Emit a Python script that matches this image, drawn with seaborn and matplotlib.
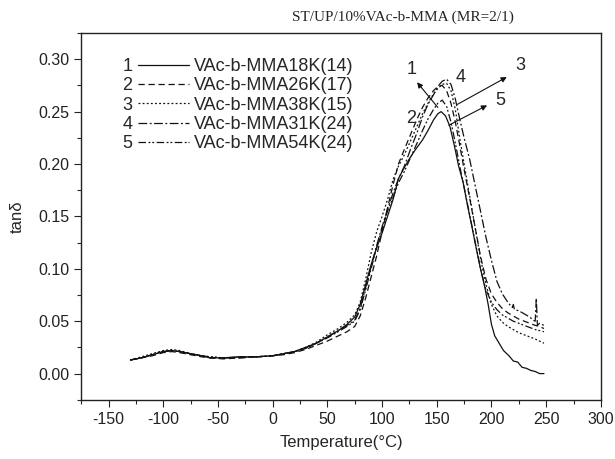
import matplotlib
matplotlib.use("Agg")
import matplotlib.pyplot as plt
from matplotlib.lines import Line2D
from matplotlib.ticker import MultipleLocator, FormatStrFormatter
import seaborn as sns
import pandas as pd

# -------------------------------------------------------
# tan(delta) vs temperature
# -------------------------------------------------------
temps_a = [-130, -120, -110, -100, -92, -85, -75, -65, -57, -45, -30, -15, 0, 10, 20, 30, 40,
           50, 60, 68, 75, 80, 85, 90, 95, 100, 105, 110, 115, 120, 126, 132, 137, 142, 147,
           151, 155, 159, 163, 167, 171, 175, 180, 185, 190, 195, 200, 205, 210, 215, 220,
           225, 230, 235, 240, 244, 248]

temps_1 = [-130, -120, -110, -100, -92, -85, -75, -65, -57, -45, -30, -15, 0, 10, 20, 30, 40,
           50, 60, 68, 75, 80, 85, 90, 95, 100, 105, 110, 115, 120, 125, 130, 137, 142, 147,
           151, 154, 158, 162, 166, 170, 174, 178, 182, 186, 190, 194, 197, 200, 203, 207,
           211, 216, 220, 224, 228, 232, 236, 240, 244, 248]
tand_1 = [0.013, 0.015, 0.018, 0.021, 0.022, 0.021, 0.019, 0.017, 0.015, 0.015, 0.016, 0.016,
          0.017, 0.019, 0.021, 0.025, 0.029, 0.035, 0.041, 0.047, 0.054, 0.066, 0.085, 0.104,
          0.120, 0.134, 0.150, 0.166, 0.186, 0.196, 0.205, 0.213, 0.223, 0.232, 0.242, 0.248,
          0.250, 0.246, 0.236, 0.218, 0.198, 0.183, 0.161, 0.141, 0.120, 0.100, 0.082, 0.066,
          0.047, 0.036, 0.029, 0.022, 0.017, 0.012, 0.011, 0.006, 0.005, 0.003, 0.002, 0.000,
          0.000]

tand_2 = [0.013, 0.015, 0.017, 0.020, 0.021, 0.020, 0.018, 0.016, 0.015, 0.014, 0.015, 0.016,
          0.017, 0.018, 0.020, 0.023, 0.027, 0.031, 0.036, 0.040, 0.045, 0.055, 0.072, 0.092,
          0.112, 0.135, 0.158, 0.180, 0.200, 0.213, 0.228, 0.243, 0.254, 0.263, 0.270, 0.274,
          0.275, 0.270, 0.258, 0.240, 0.218, 0.195, 0.168, 0.140, 0.112, 0.090, 0.076, 0.068,
          0.062, 0.058, 0.055, 0.052, 0.050, 0.048, 0.046, 0.045, 0.043]

tand_3 = [0.013, 0.016, 0.019, 0.022, 0.023, 0.022, 0.019, 0.017, 0.016, 0.015, 0.016, 0.016,
          0.017, 0.019, 0.021, 0.025, 0.030, 0.037, 0.043, 0.049, 0.056, 0.068, 0.090, 0.115,
          0.135, 0.150, 0.166, 0.185, 0.198, 0.208, 0.222, 0.236, 0.248, 0.258, 0.267, 0.272,
          0.276, 0.277, 0.270, 0.252, 0.225, 0.200, 0.170, 0.140, 0.110, 0.085, 0.066, 0.055,
          0.049, 0.045, 0.042, 0.039, 0.037, 0.035, 0.033, 0.031, 0.029]

temps_4 = [-130, -120, -110, -100, -92, -85, -75, -65, -57, -45, -30, -15, 0, 10, 20, 30, 40,
           50, 60, 68, 75, 80, 85, 90, 95, 100, 105, 110, 115, 120, 126, 132, 137, 142, 147,
           151, 155, 159, 163, 167, 171, 175, 180, 185, 190, 195, 200, 205, 210, 215, 219,
           220, 221, 225, 230, 235, 238, 240, 241, 242, 244, 248]
tand_4 = [0.013, 0.015, 0.018, 0.021, 0.022, 0.021, 0.019, 0.017, 0.015, 0.015, 0.015, 0.016,
          0.017, 0.019, 0.021, 0.024, 0.029, 0.035, 0.041, 0.046, 0.051, 0.062, 0.082, 0.102,
          0.122, 0.140, 0.157, 0.172, 0.186, 0.197, 0.214, 0.230, 0.245, 0.257, 0.266, 0.274,
          0.279, 0.281, 0.276, 0.262, 0.243, 0.225, 0.205, 0.180, 0.155, 0.130, 0.108, 0.088,
          0.076, 0.068, 0.063, 0.066, 0.061, 0.060, 0.057, 0.054, 0.051, 0.050, 0.072, 0.046,
          0.048, 0.046]

tand_5 = [0.013, 0.015, 0.018, 0.021, 0.022, 0.021, 0.019, 0.017, 0.016, 0.015, 0.016, 0.016,
          0.017, 0.019, 0.021, 0.024, 0.029, 0.034, 0.040, 0.045, 0.050, 0.061, 0.080, 0.100,
          0.120, 0.138, 0.155, 0.168, 0.182, 0.192, 0.206, 0.220, 0.232, 0.243, 0.252, 0.258,
          0.261, 0.255, 0.240, 0.220, 0.198, 0.178, 0.152, 0.126, 0.100, 0.080, 0.068, 0.061,
          0.056, 0.053, 0.050, 0.048, 0.046, 0.044, 0.042, 0.041, 0.040]

labels = ["VAc-b-MMA18K(14)", "VAc-b-MMA26K(17)", "VAc-b-MMA38K(15)",
          "VAc-b-MMA31K(24)", "VAc-b-MMA54K(24)"]
numbers = ["1", "2", "3", "4", "5"]

series = [(temps_1, tand_1), (temps_a, tand_2), (temps_a, tand_3),
          (temps_4, tand_4), (temps_a, tand_5)]
line_styles = ["-", (0, (5, 3)), (0, (1.5, 1.8)), (0, (7, 2, 1.5, 2)),
               (0, (6, 2, 1.5, 1.5, 1.5, 2))]

# -------------------------------------------------------
# Style
# -------------------------------------------------------
sns.set_style("ticks")
plt.rcParams["font.family"] = ["Liberation Sans", "DejaVu Sans"]
plt.rcParams["axes.unicode_minus"] = False

fig, ax = plt.subplots(figsize=(6.15, 4.59), dpi=100)
fig.subplots_adjust(left=0.132, right=0.977, top=0.928, bottom=0.129)

for (t, v), ls in zip(series, line_styles):
    df = pd.DataFrame({"T": t, "tand": v})
    sns.lineplot(data=df, x="T", y="tand", ax=ax, color="#111111", lw=0.9,
                 linestyle=ls, errorbar=None)

# -------------------------------------------------------
# Axes
# -------------------------------------------------------
ax.set_xlim(-175, 300)
ax.set_ylim(-0.025, 0.325)
ax.set_xticks(range(-150, 301, 50))
ax.xaxis.set_minor_locator(MultipleLocator(25))
ax.yaxis.set_minor_locator(MultipleLocator(0.025))
ax.set_yticks([0, 0.05, 0.10, 0.15, 0.20, 0.25, 0.30])
ax.yaxis.set_major_formatter(FormatStrFormatter("%.2f"))
ax.tick_params(which="major", direction="out", length=5, width=0.8, labelsize=11.5,
               colors="#222222")
ax.tick_params(which="minor", direction="out", length=3, width=0.8)
for s in ax.spines.values():
    s.set_linewidth(1.0)
    s.set_color("#222222")

ax.set_xlabel("Temperature(°C)", fontsize=12, labelpad=6)
ax.set_ylabel("tanδ", fontsize=12, labelpad=10)
fig.text(0.655, 0.962, "ST/UP/10%VAc-b-MMA (MR=2/1)", ha="center", va="center",
         family="Liberation Serif", fontsize=11)

# -------------------------------------------------------
# Legend: numbers in one column, lines + names in another
# -------------------------------------------------------
leg_kw = dict(frameon=False, fontsize=13, borderpad=0, labelspacing=0.13,
              loc="upper left", borderaxespad=0)
handles = [Line2D([], [], color="#111111", lw=0.9, linestyle=ls) for ls in line_styles]
blank = [Line2D([], [], color="none") for _ in numbers]
leg_num = ax.legend(blank, numbers, handlelength=0, handletextpad=0,
                    bbox_to_anchor=(0.079, 0.932), **leg_kw)
ax.add_artist(leg_num)
ax.legend(handles, labels, handlelength=2.8, handletextpad=0.3,
          bbox_to_anchor=(0.110, 0.932), **leg_kw)

# -------------------------------------------------------
# Curve labels and arrows
# -------------------------------------------------------
arrow = dict(arrowstyle="-|>", lw=0.8, color="#111111", mutation_scale=8,
             shrinkA=0, shrinkB=0)
ax.text(127, 0.290, "1", fontsize=13, ha="center", va="center")
ax.text(127, 0.243, "2", fontsize=13, ha="center", va="center")
ax.text(226, 0.294, "3", fontsize=13, ha="center", va="center")
ax.text(172, 0.283, "4", fontsize=13, ha="center", va="center")
ax.text(208, 0.261, "5", fontsize=13, ha="center", va="center")
ax.annotate("", xy=(132, 0.278), xytext=(151, 0.254), arrowprops=arrow)
ax.annotate("", xy=(214, 0.283), xytext=(169, 0.257), arrowprops=arrow)
ax.annotate("", xy=(196, 0.256), xytext=(161, 0.237), arrowprops=arrow)

fig.savefig("out.png", dpi=100)
